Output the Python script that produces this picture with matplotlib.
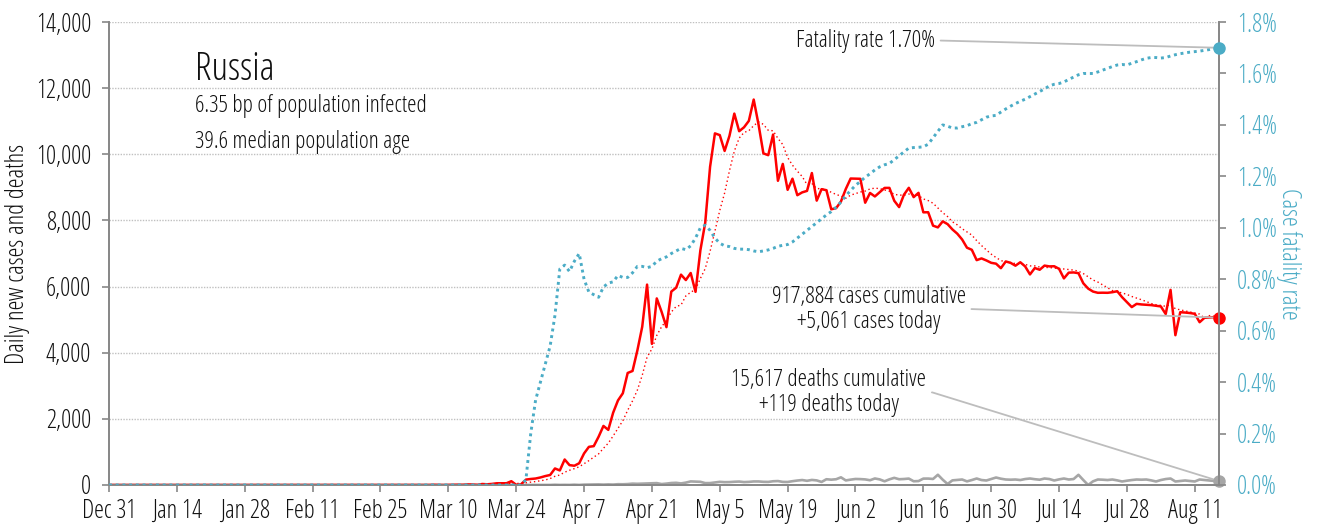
import numpy as np
import pandas as pd
import matplotlib
matplotlib.use('Agg')
import matplotlib.pyplot as plt
import matplotlib.dates as mdates
from matplotlib.ticker import FuncFormatter

plt.rcParams['font.family'] = ['Open Sans', 'DejaVu Sans']
plt.rcParams['font.stretch'] = 'condensed'

# ---- data (ECDC style reporting dates) ----
start_date = '2019-12-31'
end_date = '2020-08-16'

# daily new cases, Dec 31 .. Mar 24 (day 0..84)
cases_early = [0] * 31 + [2] + [0] * 31 + [1, 0, 0, 1, 6, 3, 0, 3, 3, 8, 6, 17, 14, 4, 30,
                                           21, 33, 52, 54, 53, 115, 5]
# daily new cases, Mar 25 .. Aug 16 (day 85..229)
cases_late = [20, 163, 182, 196, 228, 270, 302, 500, 440, 771, 601, 582, 658, 954,
              1154, 1175, 1459, 1786, 1667, 2186, 2558, 2774, 3388, 3448, 4070, 4785,
              6060, 4268, 5642, 5236, 4774, 5849, 5966, 6361, 6198, 6411, 5841, 7099,
              7933, 9623, 10633, 10581, 10102, 10559, 11231, 10699, 10817, 11012, 11656,
              10899, 10028, 9974, 10598, 9200, 9709, 8926, 9263, 8764, 8849, 8894, 9434,
              8599, 8946, 8915, 8338, 8371, 8572, 8952, 9268, 9263, 9260, 8536, 8831,
              8726, 8855, 8984, 8985, 8595, 8404, 8779, 8987, 8706, 8835, 8246, 8248,
              7843, 7790, 7972, 7889, 7728, 7600, 7425, 7176, 7113, 6800, 6852, 6791,
              6719, 6693, 6556, 6760, 6718, 6632, 6736, 6611, 6368, 6562, 6509, 6635,
              6611, 6615, 6537, 6248, 6422, 6428, 6406, 6100, 5940, 5850, 5812, 5815,
              5812, 5830, 5860, 5680, 5530, 5380, 5478, 5460, 5450, 5440, 5420, 5400,
              5170, 5900, 4530, 5225, 5215, 5200, 5177, 4923, 5056, 5065, 5075, 5061]

# daily deaths, Mar 25 .. Aug 16 (zero before)
deaths_late = [1, 0, 1, 1, 0, 2, 1,
               7, 2, 4, 2, 9, 2, 11,
               13, 13, 18, 12, 18, 13, 24,
               22, 28, 41, 36, 42, 48, 51,
               57, 28, 42, 60, 66, 47, 72,
               108, 101, 96, 57, 58, 76, 95,
               86, 88, 98, 104, 88, 94, 107,
               107, 96, 93, 113, 119, 94, 91,
               115, 135, 150, 127, 153, 139, 92,
               174, 161, 174, 232, 138, 162, 182,
               178, 169, 144, 197, 169, 112, 171,
               216, 174, 181, 194, 113, 119, 193,
               194, 182, 310, 160, 30, 140, 153,
               166, 110, 150, 196, 150, 136, 180,
               226, 190, 166, 160, 166, 150, 180,
               196, 175, 160, 196, 180, 136, 170,
               196, 166, 180, 308, 150, 0, 110,
               166, 160, 150, 166, 140, 106, 130,
               150, 166, 160, 166, 140, 106, 150,
               180, 196, 106, 120, 136, 120, 106,
               166, 150, 136, 125, 119]

# case fatality rate in %, Mar 25 .. Aug 16 (zero before)
cfr_late = [0.0, 0.02, 0.2, 0.33, 0.40, 0.47, 0.54, 0.66, 0.84, 0.855, 0.83, 0.87, 0.90,
            0.80, 0.75, 0.74, 0.73, 0.77, 0.785, 0.79, 0.815, 0.807, 0.807, 0.825, 0.85,
            0.85, 0.845, 0.85, 0.87, 0.88, 0.887, 0.90, 0.91, 0.92, 0.915, 0.93, 0.96,
            1.00, 1.01, 0.99, 0.96, 0.94, 0.93, 0.927, 0.92, 0.917, 0.917, 0.915, 0.91,
            0.907, 0.91, 0.914, 0.92, 0.928, 0.932, 0.935, 0.945, 0.96, 0.975, 0.99,
            1.005, 1.02, 1.035, 1.05, 1.063, 1.08, 1.10, 1.125, 1.145, 1.165, 1.18,
            1.197, 1.21, 1.225, 1.237, 1.245, 1.25, 1.265, 1.28, 1.295, 1.31, 1.312,
            1.313, 1.315, 1.325, 1.35, 1.375, 1.40, 1.395, 1.388, 1.388, 1.393, 1.397,
            1.405, 1.41, 1.42, 1.43, 1.435, 1.437, 1.45, 1.462, 1.473, 1.483, 1.492,
            1.50, 1.51, 1.52, 1.53, 1.54, 1.552, 1.558, 1.561, 1.567, 1.577, 1.586,
            1.595, 1.60, 1.60, 1.60, 1.606, 1.613, 1.62, 1.627, 1.633, 1.635, 1.633,
            1.64, 1.646, 1.653, 1.659, 1.662, 1.662, 1.66, 1.662, 1.668, 1.673, 1.677,
            1.68, 1.683, 1.685, 1.687, 1.69, 1.693, 1.697, 1.70]

country = 'Russia'
info_lines = ['6.35 bp of population infected', '39.6 median population age']
cum_cases_text = '917,884 cases cumulative\n+5,061 cases today'
cum_deaths_text = '15,617 deaths cumulative\n+119 deaths today'
fatality_text = 'Fatality rate 1.70%'

# ---- build frame ----
dates = pd.date_range(start_date, end_date, freq='D')
n_early = len(cases_early)
df = pd.DataFrame({
    'cases': cases_early + cases_late,
    'deaths': [0] * n_early + deaths_late,
    'cfr': [0.0] * n_early + cfr_late,
}, index=dates)
df['cases_avg'] = df['cases'].rolling(7, min_periods=1).mean()

RED = '#ff0000'
BLUE = '#4bacc6'
GREY = '#a6a6a6'
AXIS = '#888888'
TXT = '#111111'
FS = 17

fig = plt.figure(figsize=(13.17, 5.25), dpi=100)
ax = fig.add_axes([0.0828, 0.0762, 0.8428, 0.8818])
ax2 = ax.twinx()

ax.plot(df.index, df['deaths'], color=GREY, lw=1.9, zorder=2)
ax.plot(df.index, df['cases'], color=RED, lw=1.8, zorder=3)
ax.plot(df.index, df['cases_avg'], color=RED, lw=1.0, ls=(0, (1, 2)), zorder=3)
ax2.plot(df.index, df['cfr'] / 100, color=BLUE, lw=2.1, ls=(0, (1, 1.3)), zorder=3)

last = df.index[-1]
ax.plot([last], [df['cases'].iloc[-1]], 'o', color=RED, ms=8, zorder=5, clip_on=False)
ax.plot([last], [df['deaths'].iloc[-1]], 'o', color=GREY, ms=8, zorder=5, clip_on=False)
ax2.plot([last], [df['cfr'].iloc[-1] / 100], 'o', color=BLUE, ms=8, zorder=5, clip_on=False)

# axes styling
ax.set_xlim(pd.Timestamp(start_date), pd.Timestamp(end_date))
ax.set_ylim(0, 14000)
ax2.set_ylim(0, 0.018)
ax.set_yticks(np.arange(0, 14001, 2000))
ax2.set_yticks(np.arange(0, 0.0181, 0.002))
ax.yaxis.set_major_formatter(FuncFormatter(lambda v, p: '{:,.0f}'.format(v)))
ax2.yaxis.set_major_formatter(FuncFormatter(lambda v, p: '{:.1f}%'.format(v * 100)))
ax.set_xticks(pd.date_range(start_date, end_date, freq='14D'))
ax.xaxis.set_major_formatter(FuncFormatter(
    lambda v, p: mdates.num2date(v).strftime('%b ') + str(mdates.num2date(v).day)))

for a in (ax, ax2):
    a.spines['top'].set_visible(False)
    for s in ('left', 'right', 'bottom'):
        a.spines[s].set_color(AXIS)
        a.spines[s].set_linewidth(1.3)
ax.tick_params(axis='both', colors=AXIS, length=5, width=1.2, labelsize=18, labelcolor=TXT)
ax.tick_params(axis='x', pad=5)
ax.tick_params(axis='y', pad=8)
ax2.tick_params(axis='y', colors=AXIS, length=5, width=1.2, labelsize=18, labelcolor=BLUE, pad=8)

ax.yaxis.grid(True, ls=(0, (1, 1)), color='#c0c0c0', lw=1.0)
ax.set_axisbelow(True)

ax.set_ylabel('Daily new cases and deaths', fontsize=18, color=TXT, labelpad=4)
ax2.set_ylabel('Case fatality rate', fontsize=18, color=BLUE, rotation=270, labelpad=18)

# title block
ax.text(0.0775, 0.898, country, transform=ax.transAxes, fontsize=28, va='center', ha='left',
        color=TXT)
ax.text(0.0775, 0.8186, info_lines[0], transform=ax.transAxes, fontsize=FS, va='center',
        color=TXT)
ax.text(0.0775, 0.741, info_lines[1], transform=ax.transAxes, fontsize=FS, va='center',
        color=TXT)

line_props = dict(arrowstyle='-', color='#bdbdbd', lw=1.3, shrinkA=2, shrinkB=0,
                  connectionstyle='arc,angleA=0,armA=6,angleB=0,armB=0,rad=0', relpos=(1, 0.5))

ax2.annotate(fatality_text, xy=(last, df['cfr'].iloc[-1] / 100),
             xytext=(pd.Timestamp('2020-06-18 10:00'), 0.01728), textcoords='data',
             ha='right', va='center', fontsize=FS, color=TXT, arrowprops=line_props)
ax.annotate(cum_cases_text, xy=(last, df['cases'].iloc[-1]),
            xytext=(pd.Timestamp('2020-06-04 18:00'), 5320), textcoords='data',
            ha='center', va='center', multialignment='center', fontsize=FS, color=TXT,
            linespacing=1.05, arrowprops=line_props)
ax.annotate(cum_deaths_text, xy=(last, df['deaths'].iloc[-1]),
            xytext=(pd.Timestamp('2020-05-27 12:00'), 2800), textcoords='data',
            ha='center', va='center', multialignment='center', fontsize=FS, color=TXT,
            linespacing=1.05, arrowprops=line_props)

fig.savefig('out.png', dpi=100)
